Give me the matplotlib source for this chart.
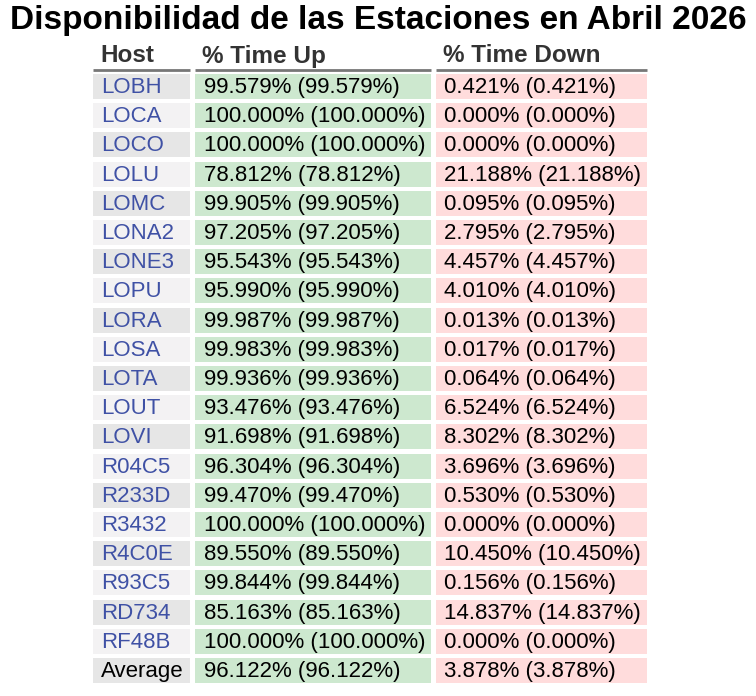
import matplotlib
matplotlib.use("Agg")
import matplotlib.pyplot as plt
from matplotlib.patches import Rectangle

title = "Disponibilidad de las Estaciones en Abril 2026"
headers = ["Host", "% Time Up", "% Time Down"]
hosts = ["LOBH","LOCA","LOCO","LOLU","LOMC","LONA2","LONE3","LOPU","LORA","LOSA",
         "LOTA","LOUT","LOVI","R04C5","R233D","R3432","R4C0E","R93C5","RD734","RF48B"]
time_up = [99.579,100.000,100.000,78.812,99.905,97.205,95.543,95.990,99.987,99.983,
           99.936,93.476,91.698,96.304,99.470,100.000,89.550,99.844,85.163,100.000]
time_down = [0.421,0.000,0.000,21.188,0.095,2.795,4.457,4.010,0.013,0.017,
             0.064,6.524,8.302,3.696,0.530,0.000,10.450,0.156,14.837,0.000]
avg_up = 96.122
avg_down = 3.878

fig = plt.figure(figsize=(7.56, 6.96), dpi=100)
ax = fig.add_axes([0, 0, 1, 1])
ax.set_xlim(0, 756); ax.set_ylim(696, 0); ax.axis("off")
font = "Liberation Sans"

ax.text(378, 20, title, ha="center", va="center", fontsize=24, fontweight="bold",
        family=font, color="black")

cols = [(93, 190), (195, 431), (436, 647)]
for (x0, x1), h in zip(cols, headers):
    ax.text(x0 + 7, 56, h, ha="left", va="center", fontsize=17.5, fontweight="bold",
            family=font, color="#333333")
    ax.plot([x0, x1], [70, 70], color="#777777", lw=2, solid_capstyle="butt")

rows = [(h, f"{u:.3f}% ({u:.3f}%)", f"{d:.3f}% ({d:.3f}%)", "#3f51a5")
        for h, u, d in zip(hosts, time_up, time_down)]
rows.append(("Average", f"{avg_up:.3f}% ({avg_up:.3f}%)", f"{avg_down:.3f}% ({avg_down:.3f}%)", "black"))

pitch = 29.2
for i, (h, u, d, hc) in enumerate(rows):
    top = 74 + pitch * i
    hh = 25
    hostbg = "#e6e6e6" if i % 2 == 0 else "#f3f2f3"
    for (x0, x1), bg in zip(cols, [hostbg, "#cde8cf", "#ffdcdc"]):
        ax.add_patch(Rectangle((x0, top), x1 - x0, hh, color=bg, lw=0))
    cy = top + hh / 2 + 1
    ax.text(cols[0][0] + 8, cy, h, ha="left", va="center", fontsize=16, family=font, color=hc)
    ax.text(cols[1][0] + 9, cy, u, ha="left", va="center", fontsize=16, family=font, color="black")
    ax.text(cols[2][0] + 8, cy, d, ha="left", va="center", fontsize=16, family=font, color="black")

fig.savefig("out.png", dpi=100)
